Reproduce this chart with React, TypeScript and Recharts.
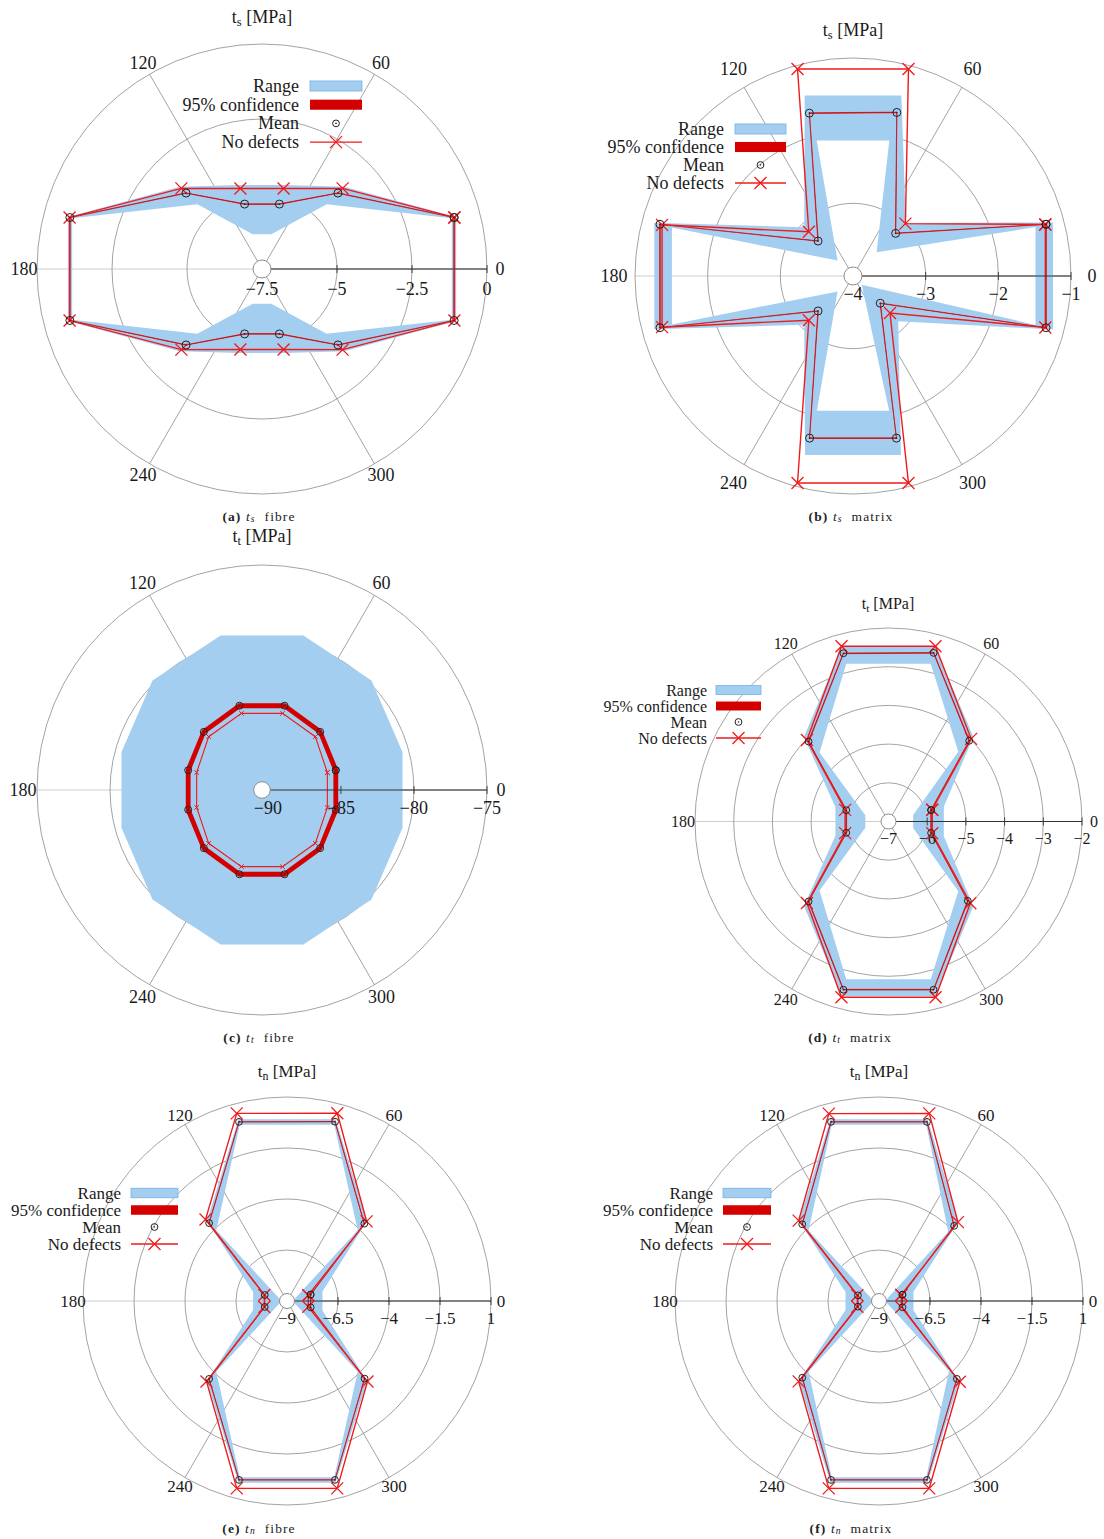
import React from 'react';
import { RadarChart, Radar, PolarGrid, PolarAngleAxis, PolarRadiusAxis } from 'recharts';

// ---------- data ----------
const angles = [15, 45, 75, 105, 135, 165, 195, 225, 255, 285, 315, 345];
const angleTicks = [0, 60, 120, 180, 240, 300];

// (a) t_s fibre
const ticksA = [-7.5, -5, -2.5, 0];
const noDefectsA = [-0.86, -3.7, -4.72, -4.72, -3.7, -0.86, -0.86, -3.7, -4.72, -4.72, -3.7, -0.86];
const meanA = [-0.87, -3.92, -5.26, -5.26, -3.92, -0.87, -0.87, -3.92, -5.26, -5.26, -3.92, -0.87];
const confLowA = [-0.88, -3.93, -5.27, -5.27, -3.93, -0.88, -0.88, -3.93, -5.27, -5.27, -3.93, -0.88];
const confHighA = [-0.86, -3.91, -5.25, -5.25, -3.91, -0.86, -0.86, -3.91, -5.25, -5.25, -3.91, -0.86];
const rangeMinA = [-0.95, -4.45, -6.3, -6.3, -4.45, -0.95, -0.95, -4.45, -6.3, -6.3, -4.45, -0.95];
const rangeMaxA = [-0.8, -3.62, -4.6, -4.6, -3.62, -0.8, -0.8, -3.62, -4.6, -4.6, -3.62, -0.8];

// (b) t_s matrix
const ticksB = [-4, -3, -2, -1];
const noDefectsB = [-1.26, -2.98, -1.05, -1.05, -3.14, -1.28, -1.28, -3.14, -1.05, -1.05, -3.28, -1.26];
const meanB = [-1.25, -3.17, -1.67, -1.68, -3.32, -1.25, -1.25, -3.32, -1.69, -1.69, -3.47, -1.25];
const confLowB = [-1.255, -3.175, -1.675, -1.685, -3.325, -1.255, -1.255, -3.325, -1.695, -1.695, -3.475, -1.255];
const confHighB = [-1.245, -3.165, -1.665, -1.675, -3.315, -1.245, -1.245, -3.315, -1.685, -1.685, -3.465, -1.245];
const rangeMinB = [-1.4, -3.54, -2.07, -2.07, -3.7, -1.42, -1.42, -3.7, -2.08, -2.08, -3.83, -1.4];
const rangeMaxB = [-1.15, -2.97, -1.43, -1.43, -3.05, -1.17, -1.17, -3.05, -1.45, -1.45, -3.12, -1.15];

// (c) t_t fibre
const ticksC = [-90, -85, -80, -75];
const noDefectsC = [-85.77, -85.24, -84.97, -84.97, -85.24, -85.77, -85.77, -85.24, -84.97, -84.97, -85.24, -85.77];
const meanC = [-85.17, -84.77, -84.43, -84.43, -84.77, -85.17, -85.17, -84.77, -84.43, -84.43, -84.77, -85.17];
const confLowC = [-85.34, -84.94, -84.6, -84.6, -84.94, -85.34, -85.34, -84.94, -84.6, -84.6, -84.94, -85.34];
const confHighC = [-85.0, -84.6, -84.26, -84.26, -84.6, -85.0, -85.0, -84.6, -84.26, -84.26, -84.6, -85.0];
const rangeMinC = [-90.4, -90.4, -90.4, -90.4, -90.4, -90.4, -90.4, -90.4, -90.4, -90.4, -90.4, -90.4];
const rangeMaxC = [-80.44, -79.8, -79.46, -79.46, -79.8, -80.44, -80.44, -79.8, -79.46, -79.46, -79.8, -80.44];

// (d) t_t matrix
const ticksD = [-7, -6, -5, -4, -3, -2];
const noDefectsD = [-5.83, -3.98, -2.31, -2.31, -4.02, -5.84, -5.84, -4.02, -2.3, -2.3, -4.01, -5.83];
const meanD = [-5.86, -4.05, -2.49, -2.5, -4.08, -5.87, -5.87, -4.08, -2.5, -2.5, -4.1, -5.86];
const confLowD = [-5.87, -4.06, -2.5, -2.51, -4.09, -5.88, -5.88, -4.09, -2.51, -2.51, -4.11, -5.87];
const confHighD = [-5.85, -4.04, -2.48, -2.49, -4.07, -5.86, -5.86, -4.07, -2.49, -2.49, -4.09, -5.85];
const rangeMinD = [-6.34, -4.45, -2.78, -2.78, -4.48, -6.38, -6.38, -4.48, -2.78, -2.78, -4.45, -6.34];
const rangeMaxD = [-5.52, -3.9, -2.33, -2.33, -3.91, -5.58, -5.58, -3.91, -2.33, -2.33, -3.9, -5.52];

// (e) t_n fibre
const ticksE = [-9, -6.5, -4, -1.5, 1];
const noDefectsE = [-7.92, -3.48, 0.53, 0.52, -3.35, -7.85, -7.85, -3.42, 0.51, 0.51, -3.42, -7.92];
const meanE = [-7.8, -3.64, 0.1, 0.09, -3.6, -7.87, -7.87, -3.6, 0.08, 0.08, -3.62, -7.8];
const confLowE = [-7.81, -3.65, 0.09, 0.08, -3.61, -7.88, -7.88, -3.61, 0.07, 0.07, -3.63, -7.81];
const confHighE = [-7.79, -3.63, 0.11, 0.1, -3.59, -7.86, -7.86, -3.59, 0.09, 0.09, -3.61, -7.79];
const rangeMinE = [-8.62, -4.1, -0.05, -0.05, -4.1, -8.65, -8.65, -4.1, -0.05, -0.05, -4.1, -8.62];
const rangeMaxE = [-7.2, -3.45, 0.22, 0.22, -3.45, -7.28, -7.28, -3.45, 0.22, 0.22, -3.45, -7.2];

// (f) t_n matrix
const ticksF = [-9, -6.5, -4, -1.5, 1];
const noDefectsF = [-7.87, -3.53, 0.52, 0.51, -3.43, -7.9, -7.9, -3.43, 0.51, 0.51, -3.4, -7.87];
const meanF = [-7.81, -3.79, 0.09, 0.09, -3.68, -7.93, -7.93, -3.68, 0.08, 0.08, -3.6, -7.81];
const confLowF = [-7.82, -3.8, 0.08, 0.08, -3.69, -7.94, -7.94, -3.69, 0.07, 0.07, -3.61, -7.82];
const confHighF = [-7.8, -3.78, 0.1, 0.1, -3.67, -7.92, -7.92, -3.67, 0.09, 0.09, -3.59, -7.8];
const rangeMinF = [-8.6, -4.2, -0.05, -0.05, -4.12, -8.65, -8.65, -4.12, -0.05, -0.05, -4.15, -8.6];
const rangeMaxF = [-7.25, -3.5, 0.22, 0.22, -3.45, -7.3, -7.3, -3.45, 0.22, 0.22, -3.45, -7.25];

// ---------- styles ----------
const FONT = 'Liberation Serif';
const BLUE = '#a3cef0';
const BLUE_EDGE = '#74b3e6';
const CONF_RED = '#d40000';
const LINE_RED = '#f01a1a';
const GRID = '#8c8c8c';
// angle axis covers one full turn plus the closing vertex (15 deg past 360)
const ANGLE_END = 375;

type Series = { noDef: number[]; mean: number[]; cLo: number[]; cHi: number[]; rMin: number[]; rMax: number[] };

function buildRows(s: Series, base: number) {
  const n = angles.length;
  const rows: any[] = [];
  for (let i = 0; i <= n; i++) {
    const j = i % n;
    rows.push({
      angle: angles[j] + (i === n ? 360 : 0),
      range: [s.rMin[j], s.rMax[j]],
      conf: [s.cLo[j], s.cHi[j]],
      mean: s.mean[j],
      noDef: s.noDef[j],
      base,
    });
  }
  return rows;
}

const fmt = (v: number) => (v < 0 ? '\u2212' : '') + String(Math.abs(v));

const PANELS = [
  {
    id: 'a', cx: 262, cy: 269, R: 225, domain: [-7.5, 0], ticks: ticksA, labelOff: 13, tickDy: 20, fs: 18,
    cross: 6, dotR: 4, centerR: 9, confStroke: 0.6,
    s: { noDef: noDefectsA, mean: meanA, cLo: confLowA, cHi: confHighA, rMin: rangeMinA, rMax: rangeMaxA },
    title: { x: 262, y: 17, sub: 's' }, caption: { x: 259, y: 516, l: 'a', sub: 's', word: 'fibre' },
    legend: { tx: 299, y0: 86, rh: 18.7, sx: 310, sw: 52 },
  },
  {
    id: 'b', cx: 853, cy: 276, R: 218, domain: [-4, -1], ticks: ticksB, labelOff: 21, tickDy: 18, fs: 18,
    cross: 6, dotR: 4, centerR: 9, confStroke: 0.6,
    s: { noDef: noDefectsB, mean: meanB, cLo: confLowB, cHi: confHighB, rMin: rangeMinB, rMax: rangeMaxB },
    title: { x: 853, y: 30, sub: 's' }, caption: { x: 851, y: 516, l: 'b', sub: 's', word: 'matrix' },
    legend: { tx: 724, y0: 129, rh: 18, sx: 735, sw: 51 },
  },
  {
    id: 'c', cx: 262, cy: 790, R: 225, domain: [-90.4, -75], ticks: ticksC, labelOff: 14, tickDy: 18, fs: 18,
    cross: 2.3, dotR: 3.5, centerR: 8.3, confStroke: 0,
    s: { noDef: noDefectsC, mean: meanC, cLo: confLowC, cHi: confHighC, rMin: rangeMinC, rMax: rangeMaxC },
    title: { x: 262, y: 536, sub: 't' }, caption: { x: 259, y: 1037, l: 'c', sub: 't', word: 'fibre' },
    legend: null,
  },
  {
    id: 'd', cx: 888, cy: 821, R: 193.5, domain: [-7, -2], ticks: ticksD, labelOff: 12, tickDy: 17, fs: 16,
    cross: 6, dotR: 3.4, centerR: 7.5, confStroke: 0.6,
    s: { noDef: noDefectsD, mean: meanD, cLo: confLowD, cHi: confHighD, rMin: rangeMinD, rMax: rangeMaxD },
    title: { x: 888, y: 603, sub: 't' }, caption: { x: 850, y: 1037, l: 'd', sub: 't', word: 'matrix' },
    legend: { tx: 707, y0: 690, rh: 16, sx: 716, sw: 45 },
  },
  {
    id: 'e', cx: 287, cy: 1301, R: 204, domain: [-9, 1], ticks: ticksE, labelOff: 10, tickDy: 17, fs: 17,
    cross: 6, dotR: 3.4, centerR: 7.5, confStroke: 0.6,
    s: { noDef: noDefectsE, mean: meanE, cLo: confLowE, cHi: confHighE, rMin: rangeMinE, rMax: rangeMaxE },
    title: { x: 287, y: 1071, sub: 'n' }, caption: { x: 259, y: 1528, l: 'e', sub: 'n', word: 'fibre' },
    legend: { tx: 121, y0: 1193, rh: 17, sx: 131, sw: 47 },
  },
  {
    id: 'f', cx: 879, cy: 1301, R: 204, domain: [-9, 1], ticks: ticksF, labelOff: 10, tickDy: 17, fs: 17,
    cross: 6, dotR: 3.4, centerR: 7.5, confStroke: 0.6,
    s: { noDef: noDefectsF, mean: meanF, cLo: confLowF, cHi: confHighF, rMin: rangeMinF, rMax: rangeMaxF },
    title: { x: 879, y: 1071, sub: 'n' }, caption: { x: 851, y: 1528, l: 'f', sub: 'n', word: 'matrix' },
    legend: { tx: 713, y0: 1193, rh: 17, sx: 723, sw: 48 },
  },
];

function crossPath(x: number, y: number, s: number) {
  return `M${x - s},${y - s}L${x + s},${y + s}M${x - s},${y + s}L${x + s},${y - s}`;
}

function Panel({ p }: { p: any }) {
  const S = Math.round(2 * (p.R + 45));
  const rows = buildRows(p.s, p.domain[0]);

  const angleTick = (props: any) => {
    const { x, y, payload } = props;
    if (payload.value >= 360) return <g />;
    return (
      <text x={x} y={y} textAnchor="middle" dominantBaseline="central" fontSize={p.fs} fontFamily={FONT} fill="#1a1a1a">
        {payload.value}
      </text>
    );
  };
  const radiusTick = (props: any) => {
    const { x, y, payload } = props;
    return (
      <g>
        <line x1={x} y1={y - 4} x2={x} y2={y + 4} stroke="#333" strokeWidth={0.9} />
        <text x={x} y={y + p.tickDy} textAnchor="middle" dominantBaseline="central" fontSize={p.fs} fontFamily={FONT} fill="#1a1a1a">
          {fmt(payload.value)}
        </text>
      </g>
    );
  };
  const crossDot = (props: any) => (
    <path key={`x${props.index}`} d={crossPath(props.cx, props.cy, p.cross)} stroke={LINE_RED} strokeWidth={p.cross < 3 ? 1 : 1.3} fill="none" />
  );
  const meanDot = (props: any) => (
    <g key={`m${props.index}`}>
      <circle cx={props.cx} cy={props.cy} r={p.dotR} stroke="#222" strokeWidth={1} fill="none" />
      <circle cx={props.cx} cy={props.cy} r={0.8} fill="#222" />
    </g>
  );
  const centerDot = (props: any) =>
    props.index === 0 ? (
      <circle key="c0" cx={props.cx} cy={props.cy} r={p.centerR} fill="#fff" stroke="#8c8c8c" strokeWidth={1} />
    ) : (
      <g key={`c${props.index}`} />
    );

  return (
    <div style={{ position: 'absolute', left: p.cx - S / 2, top: p.cy - S / 2, width: S, height: S }}>
      <RadarChart
        width={S}
        height={S}
        data={rows}
        cx="50%"
        cy="50%"
        innerRadius={0}
        outerRadius={p.R}
        startAngle={0}
        endAngle={ANGLE_END}
        margin={{ top: 0, right: 0, bottom: 0, left: 0 }}
      >
        <PolarGrid gridType="circle" polarAngles={[180]} polarRadius={[]} stroke="#c8c8c8" strokeWidth={0.9} />
        <PolarGrid gridType="circle" polarAngles={[0, 60, 120, 240, 300]} stroke={GRID} strokeWidth={0.8} />
        <PolarAngleAxis
          dataKey="angle"
          type="number"
          domain={[0, ANGLE_END]}
          allowDataOverflow
          ticks={angleTicks}
          axisLine={false}
          tickLine={false}
          tickSize={p.labelOff}
          tick={angleTick}
        />
        <Radar dataKey="range" fill={BLUE} fillOpacity={1} stroke="none" dot={false} isAnimationActive={false} legendType="none" />
        <Radar
          dataKey="conf"
          fill={CONF_RED}
          fillOpacity={1}
          stroke={p.confStroke > 0 ? CONF_RED : 'none'}
          strokeWidth={p.confStroke}
          dot={false}
          isAnimationActive={false}
          legendType="none"
        />
        <Radar dataKey="noDef" fill="none" stroke={LINE_RED} strokeWidth={p.cross < 3 ? 1.1 : 1.4} dot={crossDot} isAnimationActive={false} legendType="none" />
        <Radar dataKey="mean" fill="none" stroke="none" dot={meanDot} isAnimationActive={false} legendType="none" />
        <PolarRadiusAxis
          angle={0}
          type="number"
          domain={p.domain}
          allowDataOverflow
          ticks={p.ticks}
          tickCount={p.ticks.length}
          axisLine={{ stroke: '#333', strokeWidth: 1 }}
          tick={radiusTick}
        />
        <Radar dataKey="base" fill="none" stroke="none" dot={centerDot} isAnimationActive={false} legendType="none" />
      </RadarChart>
    </div>
  );
}

function Legend({ l, fs }: { l: any; fs: number }) {
  const labels = ['Range', '95% confidence', 'Mean', 'No defects'];
  const h = fs * 0.56;
  const mid = l.sx + l.sw / 2;
  return (
    <g>
      {labels.map((t, i) => (
        <text key={t} x={l.tx} y={l.y0 + i * l.rh} textAnchor="end" dominantBaseline="central" fontSize={fs} fontFamily={FONT} fill="#1a1a1a">
          {t}
        </text>
      ))}
      <rect x={l.sx} y={l.y0 - h / 2} width={l.sw} height={h} fill={BLUE} stroke={BLUE_EDGE} strokeWidth={0.8} />
      <rect x={l.sx} y={l.y0 + l.rh - h / 2} width={l.sw} height={h} fill={CONF_RED} />
      <circle cx={mid} cy={l.y0 + 2 * l.rh} r={3.4} stroke="#222" strokeWidth={1} fill="none" />
      <circle cx={mid} cy={l.y0 + 2 * l.rh} r={0.8} fill="#222" />
      <line x1={l.sx} y1={l.y0 + 3 * l.rh} x2={l.sx + l.sw} y2={l.y0 + 3 * l.rh} stroke={LINE_RED} strokeWidth={1.4} />
      <path d={crossPath(mid, l.y0 + 3 * l.rh, 6)} stroke={LINE_RED} strokeWidth={1.3} fill="none" />
    </g>
  );
}

export default function App() {
  return (
    <div style={{ position: 'absolute', left: 0, top: 0, width: 1104, height: 1539, background: '#fff', overflow: 'hidden' }}>
      {PANELS.map((p) => (
        <Panel key={p.id} p={p} />
      ))}
      <svg width={1104} height={1539} style={{ position: 'absolute', left: 0, top: 0, pointerEvents: 'none' }}>
        {PANELS.map((p) => (
          <g key={p.id}>
            <text x={p.title.x} y={p.title.y} textAnchor="middle" dominantBaseline="central" fontSize={p.fs} fontFamily={FONT} fill="#1a1a1a" style={{ whiteSpace: 'pre' }}>
              <tspan>t</tspan>
              <tspan fontSize={p.fs * 0.7} dy={p.fs * 0.3}>{p.title.sub}</tspan>
              <tspan dy={-p.fs * 0.3}>{' [MPa]'}</tspan>
            </text>
            <text x={p.caption.x} y={p.caption.y} textAnchor="middle" dominantBaseline="central" fontSize={13.5} fontFamily={FONT} fill="#222" letterSpacing={1.1} style={{ whiteSpace: 'pre' }}>
              <tspan fontWeight="bold">{`(${p.caption.l})`}</tspan>
              <tspan>{' '}</tspan>
              <tspan fontStyle="italic">t</tspan>
              <tspan fontStyle="italic" fontSize={9.5} dy={2.5}>{p.caption.sub}</tspan>
              <tspan dy={-2.5}>{`  ${p.caption.word}`}</tspan>
            </text>
            {p.legend ? <Legend l={p.legend} fs={p.fs} /> : null}
          </g>
        ))}
      </svg>
    </div>
  );
}
